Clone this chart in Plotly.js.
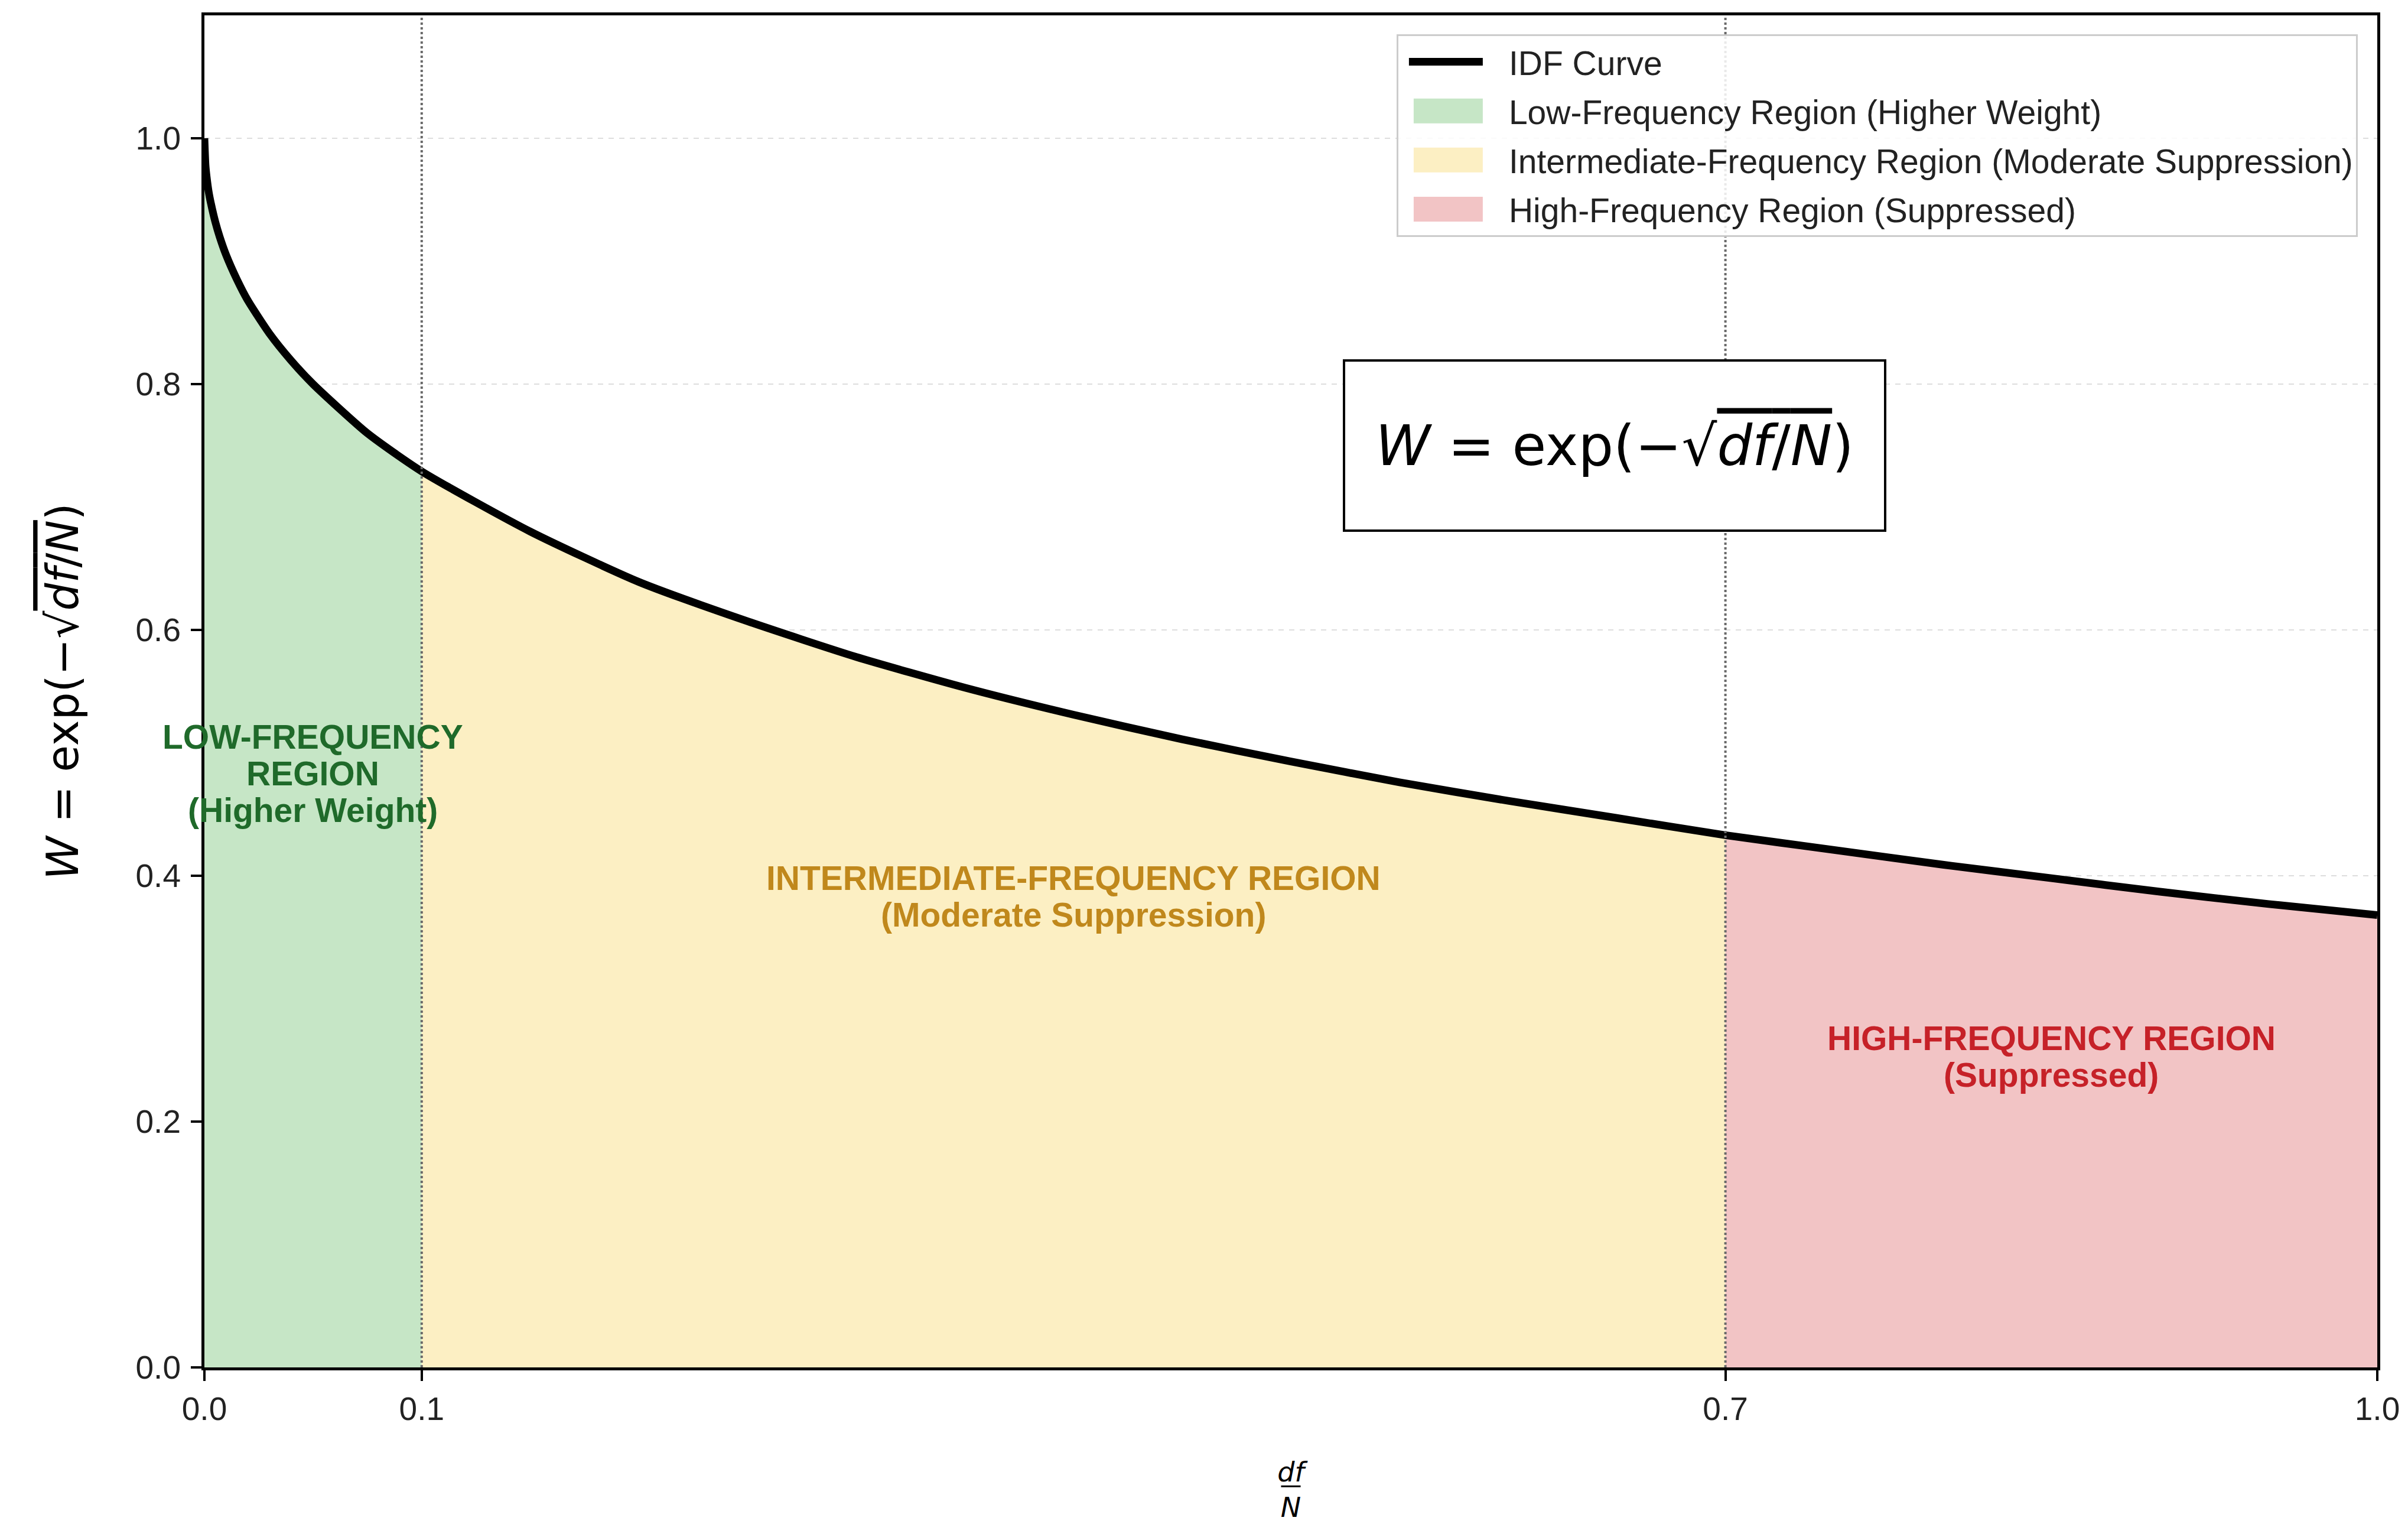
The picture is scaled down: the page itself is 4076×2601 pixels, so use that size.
<!DOCTYPE html>
<html>
<head>
<meta charset="utf-8">
<script src="https://cdn.plot.ly/plotly-3.0.1.min.js"></script>
<style>
  html, body { margin: 0; padding: 0; background: #fff; }
  #chart { width: 4076px; height: 2601px; }
</style>
</head>
<body>
<div id="chart"></div>
<script>
// IDF weighting curve W = exp(-sqrt(df/N)).
const DF_N = [0, 0.0005, 0.001, 0.002, 0.003, 0.005, 0.007, 0.01, 0.015, 0.02, 0.03, 0.04, 0.05, 0.075,
  0.1, 0.15, 0.2, 0.25, 0.3, 0.35, 0.4, 0.45, 0.5, 0.55, 0.6, 0.65, 0.7, 0.75, 0.8, 0.85, 0.9, 0.95, 1.0];
const WEIGHT = [1.0, 0.978, 0.969, 0.956, 0.947, 0.932, 0.920, 0.905, 0.885, 0.868, 0.841, 0.819, 0.80, 0.76,
  0.729, 0.68, 0.639, 0.607, 0.578, 0.553, 0.531, 0.511, 0.493, 0.476, 0.461, 0.447, 0.433, 0.421, 0.409,
  0.398, 0.387, 0.377, 0.368];

// region boundaries on the df/N axis
const REGION_EDGES = [0, 0.1, 0.7, 1.0];
const REGION_NAMES = [
  "Low-Frequency Region (Higher Weight)",
  "Intermediate-Frequency Region (Moderate Suppression)",
  "High-Frequency Region (Suppressed)",
];
const REGION_LABELS = [
  ["LOW-FREQUENCY", "REGION", "(Higher Weight)"],
  ["INTERMEDIATE-FREQUENCY REGION", "(Moderate Suppression)"],
  ["HIGH-FREQUENCY REGION", "(Suppressed)"],
];
const X_TICKS = [0, 0.1, 0.7, 1.0];
const X_TICK_TEXT = ["0.0", "0.1", "0.7", "1.0"];
const Y_TICKS = [0, 0.2, 0.4, 0.6, 0.8, 1.0];

const FILLS = ["#c6e6c6", "#fcefc3", "#f2c4c5"];
const LABEL_COLORS = ["#1f6a2a", "#c0881c", "#c62128"];
// where each region label is centred (data coords)
const LABEL_POS = [[0.05, 0.483], [0.40, 0.383], [0.85, 0.253]];
const LABEL_LINE_GAP = 62; // px between label lines

const FONT = "Liberation Sans, Arial, sans-serif";
const MATH_FONT = "DejaVu Sans, sans-serif";
const FORMULA = "<i>W</i> = exp(−√<span style='text-decoration:overline'><i>df</i>/<i>N</i></span>)";

function segment(lo, hi) {
  const xs = [], ys = [];
  DF_N.forEach((x, i) => {
    if (x >= lo && x <= hi) { xs.push(x); ys.push(WEIGHT[i]); }
  });
  return { xs, ys };
}

const traces = REGION_NAMES.map((name, k) => {
  const s = segment(REGION_EDGES[k], REGION_EDGES[k + 1]);
  return {
    type: "scatter", mode: "lines", name,
    x: s.xs, y: s.ys,
    fill: "tozeroy", fillcolor: FILLS[k],
    line: { width: 0, shape: "spline", smoothing: 0.6 },
    legendrank: k + 2, legendgroup: "g" + k,
    hoverinfo: "skip",
  };
});

traces.push({
  type: "scatter", mode: "lines", name: "IDF Curve",
  x: DF_N, y: WEIGHT,
  line: { color: "#000", width: 13, shape: "spline", smoothing: 0.6 },
  legendrank: 1, legendgroup: "curve",
});

const boundaryLines = REGION_EDGES.slice(1, -1).map((x) => ({
  type: "line", xref: "x", yref: "paper", x0: x, x1: x, y0: 0, y1: 1,
  line: { color: "#6a6a6a", width: 4, dash: "dot" }, layer: "above",
}));

// one annotation per label line so the line spacing can match the reference
const annotations = [];
REGION_LABELS.forEach((lines, k) => {
  lines.forEach((line, i) => {
    annotations.push({
      x: LABEL_POS[k][0], y: LABEL_POS[k][1], xref: "x", yref: "y",
      yshift: ((lines.length - 1) / 2 - i) * LABEL_LINE_GAP,
      text: "<b>" + line + "</b>", showarrow: false,
      font: { family: FONT, size: 57, color: LABEL_COLORS[k] },
    });
  });
});

annotations.push({
  x: 0.649, y: 0.75, xref: "x", yref: "y",
  text: FORMULA, showarrow: false,
  font: { family: MATH_FONT, size: 94, color: "#000" },
  bgcolor: "#fff", bordercolor: "#000", borderwidth: 4, borderpad: 26,
  width: 860, height: 232,
});

const layout = {
  width: 4076, height: 2601,
  paper_bgcolor: "#fff", plot_bgcolor: "#fff",
  font: { family: FONT, size: 55, color: "#222" },
  margin: { l: 346, r: 52, t: 26, b: 287 },
  showlegend: true,
  legend: {
    x: 0.991, xanchor: "right", y: 0.986, yanchor: "top",
    bgcolor: "rgba(255,255,255,0.85)", bordercolor: "#cccccc", borderwidth: 3,
    font: { family: FONT, size: 57, color: "#222" },
    traceorder: "grouped", tracegroupgap: 6, itemwidth: 177,
  },
  xaxis: {
    range: [0, 1], tickvals: X_TICKS, ticktext: X_TICK_TEXT,
    showgrid: false, zeroline: false,
    showline: true, mirror: true, linecolor: "#000", linewidth: 5,
    ticks: "outside", ticklen: 18, tickwidth: 4, tickcolor: "#000",
    tickfont: { size: 55, color: "#222" },
    title: { text: "<i>df</i><br><i>N</i>", font: { family: MATH_FONT, size: 46, color: "#000" }, standoff: 62 },
  },
  yaxis: {
    range: [0, 1.1], tickvals: Y_TICKS, tickformat: ".1f",
    showgrid: true, gridcolor: "#dddddd", gridwidth: 2, griddash: "dash",
    zeroline: false,
    showline: true, mirror: true, linecolor: "#000", linewidth: 5,
    ticks: "outside", ticklen: 18, tickwidth: 4, tickcolor: "#000",
    ticklabelstandoff: 6,
    tickfont: { size: 55, color: "#222" },
    title: { text: FORMULA, font: { family: MATH_FONT, size: 74, color: "#000" }, standoff: 74 },
  },
  shapes: [
    ...boundaryLines,
    // fraction bar for the df/N axis title
    { type: "line", xref: "paper", yref: "paper", x0: 0.4955, x1: 0.5045, y0: -0.088, y1: -0.088,
      line: { color: "#000", width: 3 } },
  ],
  annotations,
};

Plotly.newPlot("chart", traces, layout, { displayModeBar: false, responsive: false }).then((gd) => {
  // widen the legend swatches to match the reference key
  gd.querySelectorAll(".legend .traces").forEach((g) => {
    const fill = g.querySelector(".legendfill path");
    const line = g.querySelector(".legendlines path");
    if (fill) {
      fill.setAttribute("d", "M26,-21h117v42h-117z");
      if (line) line.style.display = "none";
    } else if (line) {
      line.setAttribute("d", "M18,0h125");
      line.style.strokeWidth = "13px";
    }
  });
});
</script>
</body>
</html>
